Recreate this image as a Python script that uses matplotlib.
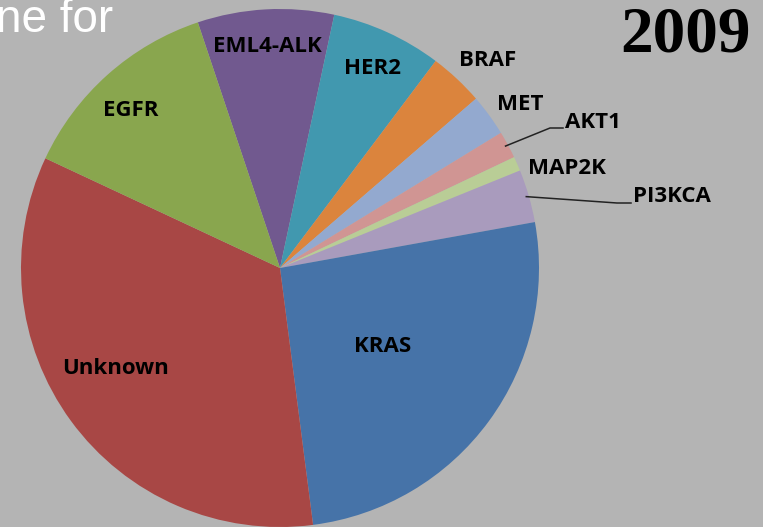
import numpy as np
import matplotlib.pyplot as plt

# share of cases per driver, clockwise from the EML4-ALK slice
genes = ["EML4-ALK", "HER2", "BRAF", "MET", "AKT1", "MAP2K", "PI3KCA", "KRAS", "Unknown", "EGFR"]
shares = [8.5, 6.9, 3.4, 2.6, 1.7, 0.9, 3.3, 25.8, 34.0, 12.9]
colors = ["#71598F", "#4198AF", "#DB843D", "#93A9CF", "#D09593",
          "#B9CD96", "#A99BBD", "#4673A8", "#A84745", "#89A64E"]

W, H = 763, 527
fig = plt.figure(figsize=(W / 100, H / 100), dpi=100)
fig.patch.set_facecolor("#B4B4B4")
ax = fig.add_axes([0, 0, 1, 1])

cx, cy, r = 280, H - 268, 259
wedges, _ = ax.pie(shares, colors=colors, startangle=108.5, counterclock=False,
                   center=(cx, cy), radius=r, frame=True,
                   wedgeprops=dict(linewidth=0))
ax.set_xlim(0, W)
ax.set_ylim(0, H)
ax.set_aspect("equal")
ax.axis("off")

lab = dict(fontsize=16, fontweight="bold", family="Open Sans", color="black",
           va="center", ha="center")

# labels inside / beside slices (pixel positions, top-left origin)
inside = {"EML4-ALK": (267, 47), "HER2": (372, 69), "EGFR": (131, 111),
          "KRAS": (383, 347), "Unknown": (116, 368),
          "BRAF": (488, 61), "MET": (520, 104), "MAP2K": (567, 169)}
for g, (x, y) in inside.items():
    ax.text(x, H - y, g, **lab)


def edge_point(name, frac=1.0):
    w = wedges[genes.index(name)]
    mid = np.deg2rad((w.theta1 + w.theta2) / 2)
    return cx + r * frac * np.cos(mid), cy + r * frac * np.sin(mid)


# leader lines for the thin slices
for g, bend, tx in [("AKT1", (550, 128), 565), ("PI3KCA", (617, 203), 633)]:
    x0, y0 = edge_point(g, 0.99)
    ax.plot([x0, bend[0], tx - 2], [y0, H - bend[1], H - bend[1]],
            color="#222222", lw=1.1)
    ax.text(tx, H - bend[1] + 6, g, fontsize=16, fontweight="bold",
            family="Open Sans", va="center", ha="left")

fig.text(113 / W, 1 - 32 / H, "ne for", fontsize=33, family="Liberation Sans",
         color="white", ha="right", va="baseline")
fig.text(751 / W, 1 - 52 / H, "2009", fontsize=47, fontweight="bold",
         family="Liberation Serif", color="black", ha="right", va="baseline")

fig.savefig("out.png", dpi=100, facecolor=fig.get_facecolor())
